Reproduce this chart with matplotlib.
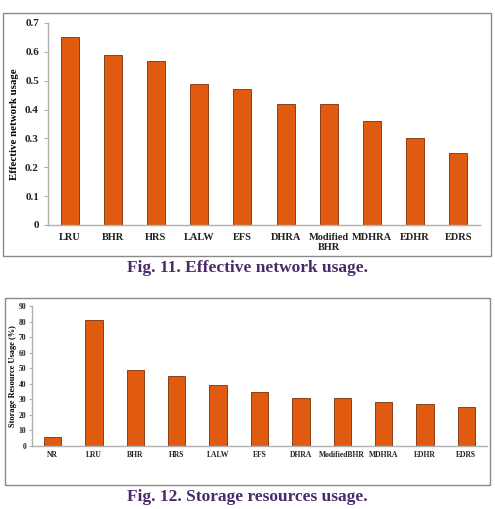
import matplotlib
matplotlib.use("Agg")
import matplotlib.pyplot as plt
from matplotlib.patches import Rectangle

plt.rcParams["font.family"] = ["Liberation Serif", "DejaVu Serif"]
plt.rcParams["font.weight"] = "bold"

# Fig. 11 data
net_labels = ["LRU", "BHR", "HRS", "LALW", "EFS", "DHRA", "Modified\nBHR",
              "MDHRA", "EDHR", "EDRS"]
net_values = [0.65, 0.59, 0.57, 0.49, 0.47, 0.42, 0.42, 0.36, 0.30, 0.25]
net_ticks = [0, 0.1, 0.2, 0.3, 0.4, 0.5, 0.6, 0.7]

# Fig. 12 data
sto_labels = ["NR", "LRU", "BHR", "HRS", "LALW", "EFS", "DHRA", "ModifiedBHR",
              "MDHRA", "EDHR", "EDRS"]
sto_values = [6, 81, 49, 45, 39, 35, 31, 31, 28, 27, 25]
sto_ticks = [0, 10, 20, 30, 40, 50, 60, 70, 80, 90]

BAR = "#E05A10"
EDGE = "#7a2e08"
CAP = "#4a2a6a"
AXC = "#b0b0b0"

W, H = 495, 509
fig = plt.figure(figsize=(W / 100, H / 100), dpi=100)


def fx(px):
    return px / W


def fy(py):
    return 1 - py / H


def style(ax):
    for s in ("top", "right"):
        ax.spines[s].set_visible(False)
    for s in ("left", "bottom"):
        ax.spines[s].set_color(AXC)
        ax.spines[s].set_linewidth(1.0)
    ax.tick_params(axis="x", length=0, colors="#222222")
    ax.tick_params(axis="y", length=3, color=AXC, colors="#222222")


# panel borders
for x0, y0, x1, y1 in [(3, 13, 491, 256), (5, 298, 490, 485)]:
    fig.add_artist(Rectangle((fx(x0), fy(y1)), fx(x1) - fx(x0), fy(y0) - fy(y1),
                             transform=fig.transFigure, fill=False,
                             edgecolor="#8a8a8a", linewidth=1.0))

# Fig. 11
ax1 = fig.add_axes([fx(48), fy(225), fx(480) - fx(48), fy(23) - fy(225)])
x1 = range(len(net_labels))
ax1.bar(x1, net_values, width=0.42, color=BAR, edgecolor=EDGE, linewidth=0.6)
ax1.set_xlim(-0.5, len(net_labels) - 0.5)
ax1.set_ylim(0, 0.7)
ax1.set_yticks(net_ticks)
ax1.set_yticklabels(["0"] + [f"{t:.1f}" for t in net_ticks[1:]], fontsize=8)
ax1.set_xticks(list(x1))
ax1.set_xticklabels(net_labels, fontsize=7.5, linespacing=1.1)
ax1.set_ylabel("Effective network usage", fontsize=7.8, fontweight="bold")
ax1.yaxis.set_label_coords(-0.068, 0.5)
style(ax1)
ax1.tick_params(axis="x", pad=6)

fig.text(0.5, fy(268), "Fig. 11. Effective network usage.", ha="center",
         va="center", fontsize=12.5, fontweight="bold", color=CAP)

# Fig. 12
ax2 = fig.add_axes([fx(32), fy(446), fx(487) - fx(32), fy(306) - fy(446)])
x2 = range(len(sto_labels))
ax2.bar(x2, sto_values, width=0.42, color=BAR, edgecolor=EDGE, linewidth=0.6)
ax2.set_xlim(-0.5, len(sto_labels) - 0.5)
ax2.set_ylim(0, 90)
ax2.set_yticks(sto_ticks)
ax2.set_yticklabels([str(t) for t in sto_ticks], fontsize=5.5)
ax2.set_xticks(list(x2))
ax2.set_xticklabels(sto_labels, fontsize=5.5)
ax2.set_ylabel("Storage Resource Usage (%)", fontsize=6, fontweight="bold")
ax2.yaxis.set_label_coords(-0.034, 0.5)
style(ax2)
ax2.tick_params(axis="y", length=2, pad=2)

fig.text(0.5, fy(497), "Fig. 12. Storage resources usage.", ha="center",
         va="center", fontsize=12.5, fontweight="bold", color=CAP)

fig.savefig("out.png", dpi=100)
